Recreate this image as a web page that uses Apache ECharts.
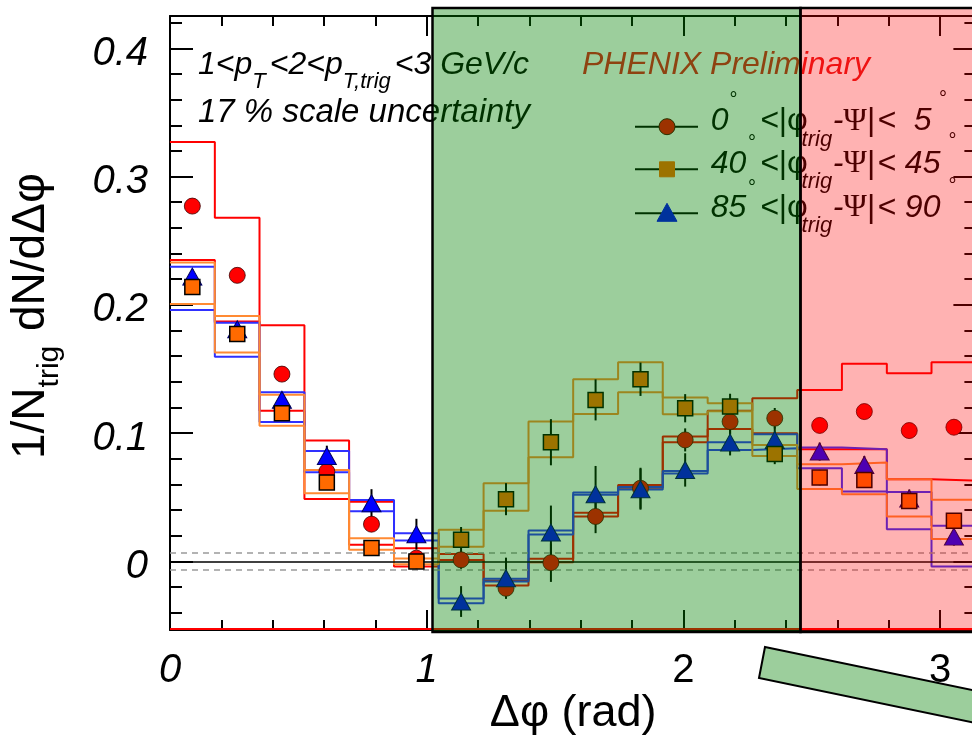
<!DOCTYPE html>
<html>
<head>
<meta charset="utf-8">
<script src="https://cdn.jsdelivr.net/npm/echarts@6/dist/echarts.min.js"></script>
<style>
  html, body { margin: 0; padding: 0; background: #ffffff; }
  #chart { width: 972px; height: 737px; }
</style>
</head>
<body>
<div id="chart"></div>
<script>
// ---- Δφ binning: 18 bins over [0, π] ----
const DPHI = [0.087, 0.262, 0.436, 0.611, 0.785, 0.960, 1.134, 1.309, 1.484,
              1.658, 1.833, 2.007, 2.182, 2.356, 2.531, 2.705, 2.880, 3.054];
const HALF_BIN = 0.0873;

// ---- 0° < |φtrig − Ψ| < 5° ----
const IN_Y      = [0.277, 0.223, 0.146, 0.070, 0.029, 0.0025, 0.0012, -0.021, -0.001,
                   0.035, 0.057, 0.0947, 0.109, 0.1116, 0.106, 0.1168, 0.102, 0.1046];
const IN_STAT   = [0.004, 0.004, 0.004, 0.004, 0.005, 0.005, 0.007, 0.008, 0.015,
                   0.013, 0.016, 0.009, 0.010, 0.008, 0.006, 0.006, 0.006, 0.006];
const IN_SYS_HI = [0.327, 0.268, 0.184, 0.0942, 0.0464, 0.0103, 0.0058, -0.015, 0.002,
                   0.038, 0.0595, 0.0973, 0.1175, 0.1272, 0.1337, 0.154, 0.1467, 0.1553];
const IN_SYS_LO = [0.235, 0.187, 0.1175, 0.0487, 0.013, -0.004, 0.001, -0.0189, -0.0006,
                   0.035, 0.0575, 0.0929, 0.1033, 0.0999, 0.0875, 0.0875, 0.064, 0.063];

// ---- 40° < |φtrig − Ψ| < 45° ----
const MID_Y      = [0.214, 0.1773, 0.1155, 0.0614, 0.0105, 0.000, 0.0168, 0.0485, 0.0929,
                    0.1259, 0.142, 0.1194, 0.1207, 0.0838, 0.0653, 0.0635, 0.047, 0.0316];
const MID_STAT   = [0.004, 0.004, 0.004, 0.004, 0.005, 0.006, 0.010, 0.0125, 0.018,
                    0.016, 0.013, 0.011, 0.010, 0.008, 0.006, 0.006, 0.006, 0.006];
const MID_SYS_HI = [0.233, 0.1913, 0.130, 0.0713, 0.018, 0.0022, 0.0246, 0.061, 0.109,
                    0.142, 0.1553, 0.1277, 0.1233, 0.0908, 0.0757, 0.077, 0.064, 0.048];
const MID_SYS_LO = [0.2007, 0.1628, 0.1058, 0.0532, 0.009, -0.0022, 0.0115, 0.0394, 0.0812,
                    0.115, 0.1319, 0.1147, 0.117, 0.0822, 0.0565, 0.0524, 0.0349, 0.0175];

// ---- 85° < |φtrig − Ψ| < 90° ----
const OUT_Y      = [0.222, 0.181, 0.126, 0.0822, 0.0453, 0.0212, -0.0313, -0.0131, 0.0225,
                    0.0524, 0.0563, 0.0713, 0.0926, 0.0947, 0.0856, 0.0752, 0.049, 0.0193];
const OUT_STAT   = [0.006, 0.005, 0.006, 0.008, 0.011, 0.012, 0.012, 0.016, 0.021,
                    0.022, 0.016, 0.013, 0.010, 0.010, 0.007, 0.007, 0.007, 0.007];
const OUT_SYS_HI = [0.2298, 0.186, 0.1319, 0.0861, 0.0479, 0.022, -0.029, -0.0135, 0.024,
                    0.0537, 0.058, 0.0705, 0.0929, 0.0991, 0.0888, 0.0875, 0.054, 0.0277];
const OUT_SYS_LO = [0.196, 0.1596, 0.1087, 0.0695, 0.039, 0.0162, -0.0326, -0.0157, 0.021,
                    0.052, 0.056, 0.0685, 0.0869, 0.0882, 0.0726, 0.0545, 0.0251, -0.004];

// ---- axes ----
const X_TICK_LABELS = ['0', '1', '2', '3'];
const X_LABEL_ITALIC = [true, true, false, false];
const Y_TICK_LABELS = ['0', '0.1', '0.2', '0.3', '0.4'];
const Y_MIN = -0.0535, Y_MAX = 0.4252;
const ZYAM_BAND = 0.0065;

// ---- styling ----
const SANS = '"Liberation Sans", Arial, Helvetica, sans-serif';
const SERIF = '"Liberation Serif", "DejaVu Serif", serif';
const RED = '#ff0000';
const ORANGE_LINE = '#ff8a33';
const ORANGE_FILL = '#ff6a00';
const BLUE_LINE = '#2f30ff';
const BLUE_FILL = '#0000ff';

// Histogram outline through bin edges (step after each edge)
function stepData(vals) {
  const d = vals.map((v, i) => [DPHI[i] - HALF_BIN, v]);
  d.push([DPHI[DPHI.length - 1] + HALF_BIN, vals[vals.length - 1]]);
  return d;
}
function sysSeries(name, vals, color) {
  return {
    name, type: 'line', step: 'end', data: stepData(vals),
    showSymbol: false, symbol: 'none', silent: true, z: 3,
    lineStyle: { color, width: 2 }
  };
}
function errSeries(name, vals, errs) {
  return {
    name, type: 'custom', z: 4, silent: true,
    data: vals.map((v, i) => [DPHI[i], v, errs[i]]),
    encode: { x: 0, y: 1 },
    renderItem: (params, api) => {
      const x = api.value(0), v = api.value(1), e = api.value(2);
      const p1 = api.coord([x, v - e]);
      const p2 = api.coord([x, v + e]);
      return { type: 'line', shape: { x1: p1[0], y1: p1[1], x2: p2[0], y2: p2[1] },
               style: { stroke: '#000', lineWidth: 2 } };
    }
  };
}
function pointSeries(name, vals, symbol, size, fill, border, bw) {
  return {
    name, type: 'scatter', z: 5, silent: true,
    data: vals.map((v, i) => [DPHI[i], v]),
    symbol, symbolSize: size,
    itemStyle: { color: fill, borderColor: border, borderWidth: bw, opacity: 1 }
  };
}

// ---- text runs with sub/superscripts ----
const measure = document.createElement('canvas').getContext('2d');
function fontOf(p) {
  return (p.italic === false ? 'normal' : 'italic') + ' ' + p.size + 'px ' + (p.family || SANS);
}
function textRun(x, y, pieces, fill, z) {
  const out = [];
  let cx = x;
  pieces.forEach(p => {
    const font = fontOf(p);
    measure.font = font;
    const w = measure.measureText(p.t).width;
    if (p.at != null) cx = p.at;
    const align = p.align || 'left';
    out.push({
      type: 'text', x: cx, y: p.ay != null ? p.ay : y + (p.dy || 0), z: z || 50, silent: true,
      style: { text: p.t, font, fill: p.fill || fill,
               align, textAlign: align, verticalAlign: 'middle', textVerticalAlign: 'middle' }
    });
    if (align === 'left') cx += w + (p.gap || 0);
  });
  return out;
}

// Y-axis title, rotated to read bottom-to-top
const yTitle = {
  type: 'group', x: 31, y: 459, rotation: Math.PI / 2, z: 50,
  children: textRun(0, 0, [
    { t: '1/N', size: 46, italic: false },
    { t: 'trig', size: 30, italic: false, dy: 19, gap: 2 },
    { t: ' dN/d\u0394\u03c6', size: 46, italic: false }
  ], '#000')
};

const infoText = [].concat(
  textRun(198, 65, [
    { t: '1<p', size: 32 },
    { t: 'T', size: 22, dy: 17, gap: 4 },
    { t: '<2<p', size: 32 },
    { t: 'T,trig', size: 22, dy: 17, gap: 4 },
    { t: '<3 GeV/c', size: 32 }
  ], '#000'),
  textRun(198, 113, [{ t: '17 % scale uncertainty', size: 33 }], '#000'),
  textRun(582, 65, [{ t: 'PHENIX Preliminary', size: 32 }], '#e81c1c')
);

// Legend rows: marker centre y, label pieces
const LEG_X0 = 635, LEG_X1 = 698, LEG_MX = 667;
const LEG_ROWS = [
  { y: 126.7, lo: '0',  hi: '  5', degLo: [733.5, 96.7],  degHi: [943, 95.7] },
  { y: 169.3, lo: '40', hi: ' 45', degLo: [752, 139.3],   degHi: [952.6, 137.7] },
  { y: 213.3, lo: '85', hi: ' 90', degLo: [752, 184],     degHi: [952.6, 182] }
];
function legendRow(row) {
  const ty = row.y - 5.5;
  return textRun(710.7, ty, [
    { t: row.lo, size: 32, at: 710.7 },
    { t: '\u00b0', size: 20, italic: false, at: row.degLo[0], ay: row.degLo[1] + 4, align: 'center' },
    { t: '<', size: 32, at: 760 },
    { t: '|', size: 32, italic: false },
    { t: '\u03c6', size: 32, italic: false },
    { t: 'trig', size: 22, at: 801.6, ay: row.y + 13 },
    { t: '-', size: 32, at: 832.7 },
    { t: '\u03a8', size: 32, italic: false, family: SERIF },
    { t: '|', size: 32, italic: false, gap: 2 },
    { t: '<' + row.hi, size: 32 },
    { t: '\u00b0', size: 20, italic: false, at: row.degHi[0], ay: row.degHi[1] + 4, align: 'center' }
  ], '#000');
}
const legendGlyphs = [];
LEG_ROWS.forEach((row, i) => {
  legendGlyphs.push({ type: 'line', z: 50, silent: true,
    shape: { x1: LEG_X0, y1: row.y, x2: LEG_X1, y2: row.y }, style: { stroke: '#000', lineWidth: 2 } });
  if (i === 0) legendGlyphs.push({ type: 'circle', z: 51, silent: true,
    shape: { cx: LEG_MX, cy: row.y, r: 8 }, style: { fill: RED, stroke: '#400', lineWidth: 1 } });
  if (i === 1) legendGlyphs.push({ type: 'rect', z: 51, silent: true,
    shape: { x: LEG_MX - 7.5, y: row.y - 7.5, width: 15, height: 15 }, style: { fill: ORANGE_FILL, stroke: ORANGE_FILL, lineWidth: 1 } });
  if (i === 2) legendGlyphs.push({ type: 'polygon', z: 51, silent: true,
    shape: { points: [[LEG_MX, row.y - 10], [LEG_MX + 10, row.y + 8], [LEG_MX - 10, row.y + 8]] },
    style: { fill: BLUE_FILL, stroke: BLUE_FILL, lineWidth: 1 } });
  legendGlyphs.push.apply(legendGlyphs, legendRow(row));
});

// Highlight overlays drawn over the plot
const overlays = [
  { type: 'rect', z: 100, silent: true, shape: { x: 432.5, y: 8, width: 368, height: 624 },
    style: { fill: 'rgba(0,128,0,0.39)', stroke: '#000', lineWidth: 2.5 } },
  { type: 'rect', z: 100, silent: true, shape: { x: 800.5, y: 8, width: 200, height: 624 },
    style: { fill: 'rgba(255,0,0,0.3)', stroke: '#000', lineWidth: 2.5 } },
  { type: 'polygon', z: 100, silent: true,
    shape: { points: [[765, 647], [1000, 695.8], [1000, 728], [759, 678]] },
    style: { fill: 'rgba(0,128,0,0.39)', stroke: '#000', lineWidth: 2 } }
];

const chart = echarts.init(document.getElementById('chart'), null, { renderer: 'canvas' });

const axisLineStyle = { color: '#000', width: 2 };
const xAxisCommon = {
  type: 'value', min: 0, max: Math.PI, interval: 1,
  splitLine: { show: false },
  axisLine: { show: true, lineStyle: axisLineStyle, onZero: false },
  axisTick: { show: true, inside: true, length: 20, lineStyle: { color: '#000', width: 2 } },
  minorTick: { show: true, splitNumber: 5, length: 10, lineStyle: { color: '#000', width: 2 } }
};
const yAxisCommon = {
  type: 'value', min: Y_MIN, max: Y_MAX, splitNumber: 5,
  splitLine: { show: false },
  axisLine: { show: true, lineStyle: axisLineStyle, onZero: false },
  axisTick: { show: true, inside: true, length: 23, lineStyle: { color: '#000', width: 2 } },
  minorTick: { show: true, splitNumber: 5, length: 12, lineStyle: { color: '#000', width: 2 } }
};

const refLines = {
  name: 'reference', type: 'line', data: [], silent: true, z: 2,
  markLine: {
    silent: true, symbol: 'none', animation: false, precision: 6, label: { show: false },
    data: [
      { yAxis: 0, lineStyle: { color: '#000', width: 1.5, type: 'solid' } },
      { yAxis: ZYAM_BAND, lineStyle: { color: '#9a9a9a', width: 1.5, type: [6, 5] } },
      { yAxis: -ZYAM_BAND, lineStyle: { color: '#9a9a9a', width: 1.5, type: [6, 5] } },
      { yAxis: Y_MIN + 0.0013, lineStyle: { color: RED, width: 2, type: 'solid' } }
    ]
  }
};

chart.setOption({
  animation: false,
  backgroundColor: '#ffffff',
  grid: { left: 170, right: -4.4, top: 16, bottom: 107, containLabel: false, outerBoundsMode: 'none' },
  xAxis: [
    Object.assign({}, xAxisCommon, {
      position: 'bottom',
      name: '\u0394\u03c6 (rad)', nameLocation: 'middle', nameGap: 61, nameMoveOverlap: false,
      nameTextStyle: { fontFamily: SANS, fontSize: 45, color: '#000' },
      axisLabel: {
        show: true, margin: 21, color: '#000', fontFamily: SANS, fontSize: 40,
        formatter: v => {
          const k = Math.round(v);
          if (Math.abs(v - k) > 1e-6 || !X_TICK_LABELS[k]) return '';
          return (X_LABEL_ITALIC[k] ? '{i|' : '{n|') + X_TICK_LABELS[k] + '}';
        },
        rich: {
          i: { fontFamily: SANS, fontSize: 40, fontStyle: 'italic', color: '#000' },
          n: { fontFamily: SANS, fontSize: 40, fontStyle: 'normal', color: '#000' }
        }
      }
    }),
    Object.assign({}, xAxisCommon, { position: 'top', axisLabel: { show: false } })
  ],
  yAxis: [
    Object.assign({}, yAxisCommon, {
      position: 'left',
      axisLabel: {
        show: true, margin: 22, color: '#000', fontFamily: SANS, fontSize: 40, fontStyle: 'italic',
        formatter: v => {
          const k = Math.round(v * 10);
          if (Math.abs(v * 10 - k) > 1e-6 || k < 0 || !Y_TICK_LABELS[k]) return '';
          return '{t|' + Y_TICK_LABELS[k] + '}';
        },
        rich: {
          t: { fontFamily: SANS, fontSize: 40, fontStyle: 'italic', color: '#000', padding: [11, 0, 0, 0] }
        }
      }
    }),
    Object.assign({}, yAxisCommon, { position: 'right', axisLabel: { show: false } })
  ],
  series: [
    refLines,
    sysSeries('in-plane sys high', IN_SYS_HI, RED),
    sysSeries('in-plane sys low', IN_SYS_LO, RED),
    sysSeries('out-of-plane sys high', OUT_SYS_HI, BLUE_LINE),
    sysSeries('out-of-plane sys low', OUT_SYS_LO, BLUE_LINE),
    sysSeries('mid-plane sys high', MID_SYS_HI, ORANGE_LINE),
    sysSeries('mid-plane sys low', MID_SYS_LO, ORANGE_LINE),
    errSeries('in-plane stat', IN_Y, IN_STAT),
    errSeries('out-of-plane stat', OUT_Y, OUT_STAT),
    errSeries('mid-plane stat', MID_Y, MID_STAT),
    pointSeries('0-5', IN_Y, 'circle', 16, RED, 'rgba(60,0,0,0.8)', 1),
    pointSeries('85-90', OUT_Y, 'triangle', [19, 17], BLUE_FILL, '#000060', 1),
    pointSeries('40-45', MID_Y, 'rect', 15, ORANGE_FILL, '#000', 1.5)
  ],
  graphic: { elements: [yTitle].concat(infoText, legendGlyphs, overlays) }
});
</script>
</body>
</html>
